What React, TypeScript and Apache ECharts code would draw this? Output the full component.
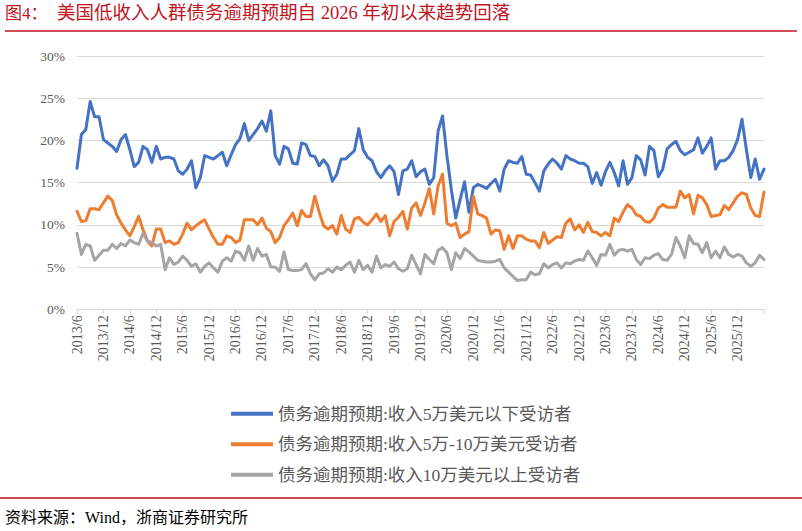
import React, { useEffect, useRef } from "react";
import * as echarts from "echarts";

const START_YEAR = 2013;
const START_MONTH = 6;
const POINT_COUNT = 157;
const categories: string[] = [];
for (let k = 0; k < POINT_COUNT; k++) {
  const m = START_MONTH - 1 + k;
  categories.push(`${START_YEAR + Math.floor(m / 12)}/${(m % 12) + 1}`);
}

const seriesNames = [
  "债务逾期预期:收入5万美元以下受访者",
  "债务逾期预期:收入5万-10万美元受访者",
  "债务逾期预期:收入10万美元以上受访者",
];

const lowIncome = [
  16.7, 20.7, 21.3, 24.6, 22.8, 22.8, 20.1, 19.7, 19.3, 18.7,
  20.1, 20.7, 18.9, 16.9, 17.4, 19.3, 18.9, 17.4, 19.3, 17.8,
  18.0, 18.0, 17.8, 16.4, 16.0, 16.6, 17.6, 14.4, 15.6, 18.2,
  18.0, 17.8, 18.2, 18.6, 17.0, 18.3, 19.5, 20.2, 22.0, 20.0,
  20.7, 21.4, 22.3, 21.1, 23.5, 18.2, 17.2, 19.3, 19.0, 17.3,
  17.2, 19.7, 19.5, 18.2, 18.1, 17.0, 17.7, 17.0, 15.2, 16.0,
  17.8, 17.8, 18.3, 18.8, 21.4, 18.9, 18.0, 17.6, 16.3, 15.6,
  16.4, 17.0, 16.3, 13.6, 16.4, 16.6, 17.6, 15.7, 16.3, 16.6,
  14.8, 15.6, 21.1, 22.9, 18.2, 14.2, 10.8, 13.0, 15.1, 11.5,
  14.4, 14.8, 14.6, 14.3, 14.9, 15.4, 14.0, 16.6, 17.6, 17.4,
  17.3, 18.1, 16.0, 15.9, 15.0, 14.0, 16.4, 17.2, 17.8, 17.3,
  16.6, 18.2, 17.8, 17.6, 17.3, 17.3, 16.9, 14.9, 16.2, 14.7,
  16.3, 17.4, 16.2, 14.6, 17.6, 14.8, 15.6, 18.2, 17.7, 15.9,
  19.3, 18.8, 15.7, 16.6, 19.0, 19.5, 19.9, 18.8, 18.3, 18.6,
  18.9, 20.3, 18.5, 19.3, 20.3, 16.6, 17.6, 17.6, 18.0, 18.8,
  20.1, 22.5, 18.9, 15.6, 17.8, 15.4, 16.6,
];

const midIncome = [
  11.6, 10.4, 10.5, 11.9, 11.9, 11.8, 12.6, 13.4, 12.9, 11.2,
  10.2, 9.4, 8.7, 9.8, 11.0, 9.4, 8.1, 7.5, 9.5, 9.5,
  7.9, 8.1, 7.7, 7.9, 8.9, 10.2, 9.4, 9.9, 10.3, 10.6,
  9.5, 8.5, 7.7, 7.7, 8.7, 8.5, 7.9, 8.2, 10.6, 10.6,
  10.6, 10.0, 10.8, 9.6, 9.2, 7.9, 8.5, 9.9, 10.6, 11.4,
  9.9, 11.7, 11.0, 11.0, 13.4, 11.5, 9.9, 9.5, 9.9, 8.9,
  11.1, 9.5, 9.1, 10.7, 10.9, 10.3, 10.0, 10.6, 11.3, 10.4,
  11.1, 8.7, 10.4, 10.9, 11.6, 9.5, 12.0, 12.6, 11.1, 12.6,
  14.3, 11.3, 14.6, 16.0, 10.2, 9.9, 10.2, 8.5, 8.9, 9.2,
  13.4, 11.3, 11.1, 10.8, 8.9, 9.4, 9.3, 7.1, 8.7, 7.2,
  8.7, 8.7, 8.3, 8.1, 8.1, 7.3, 9.1, 7.8, 8.2, 8.6,
  8.5, 10.2, 10.7, 9.4, 10.0, 9.1, 10.3, 9.2, 9.1, 8.7,
  9.1, 8.7, 10.8, 10.4, 11.5, 12.4, 12.0, 11.2, 11.0, 10.4,
  10.3, 10.8, 12.0, 12.4, 12.1, 12.1, 12.1, 14.0, 13.2, 13.6,
  11.3, 13.5, 13.2, 12.4, 11.0, 11.1, 11.2, 12.3, 11.8, 12.6,
  13.4, 13.8, 13.6, 12.0, 11.1, 11.0, 13.9,
];

const highIncome = [
  9.0, 6.5, 7.7, 7.5, 5.8, 6.4, 7.0, 7.0, 7.7, 7.2,
  7.8, 7.5, 8.2, 7.9, 7.7, 9.0, 8.1, 7.9, 7.5, 7.7,
  4.7, 6.1, 5.3, 5.6, 6.3, 5.8, 5.1, 5.4, 4.4, 5.1,
  5.5, 4.9, 4.4, 5.7, 6.1, 5.7, 6.9, 6.7, 5.8, 7.5,
  5.8, 7.2, 6.3, 6.5, 5.0, 5.0, 4.5, 6.8, 4.7, 4.6,
  4.6, 4.7, 5.4, 4.2, 3.5, 4.2, 4.3, 4.8, 4.4, 5.0,
  4.7, 5.2, 5.6, 4.4, 5.8, 4.7, 5.2, 4.4, 6.3, 4.9,
  5.3, 5.1, 5.6, 4.8, 4.5, 4.8, 6.4, 5.3, 4.2, 6.5,
  5.9, 5.4, 7.0, 7.3, 6.7, 4.7, 6.7, 6.0, 7.2, 6.8,
  6.3, 5.8, 5.7, 5.6, 5.6, 5.7, 5.9, 4.9, 4.4, 3.9,
  3.4, 3.5, 3.5, 4.4, 4.1, 4.2, 5.4, 4.9, 5.3, 5.5,
  4.9, 5.5, 5.4, 5.7, 5.9, 5.8, 6.9, 6.1, 5.2, 6.5,
  6.4, 7.7, 6.4, 7.0, 7.1, 6.9, 7.1, 5.9, 5.3, 6.1,
  6.0, 6.4, 6.6, 5.9, 5.8, 6.5, 8.5, 7.5, 6.1, 8.7,
  7.8, 7.7, 6.7, 7.9, 6.1, 6.9, 6.1, 7.4, 6.5, 6.2,
  6.5, 6.3, 5.5, 5.1, 5.5, 6.4, 5.9,
];

const seriesColors = ["#4472C4", "#ED7D31", "#A5A5A5"];
const titleLabel = "图4：";
const titleText = "美国低收入人群债务逾期预期自 2026 年初以来趋势回落";
const sourceText = "资料来源：Wind，浙商证券研究所";

const SERIF = "'Liberation Serif', 'Times New Roman', 'Noto Sans CJK SC', serif";

export default function App() {
  const ref = useRef<HTMLDivElement>(null);
  useEffect(() => {
    if (!ref.current) return;
    const chart = echarts.init(ref.current, undefined, { renderer: "svg" });
    const data = [lowIncome, midIncome, highIncome];
    chart.setOption({
      animation: false,
      backgroundColor: "#ffffff",
      grid: { left: 77, right: 38, top: 56, height: 253.3 },
      legend: {
        orient: "vertical",
        left: 226,
        top: 400,
        itemWidth: 42,
        itemHeight: 4,
        itemGap: 13,
        icon: "rect",
        textStyle: { fontFamily: SERIF, fontSize: 17.5, color: "#595959" },
        data: seriesNames,
      },
      xAxis: {
        type: "category",
        data: categories,
        boundaryGap: false,
        axisLine: { lineStyle: { color: "#D9D9D9", width: 1 } },
        axisTick: {
          show: true,
          length: 5,
          interval: (idx: number) => idx % 6 === 0,
          lineStyle: { color: "#D9D9D9" },
        },
        axisLabel: {
          interval: (idx: number) => idx % 6 === 0 && idx < POINT_COUNT - 1,
          rotate: 90,
          margin: 6,
          fontFamily: SERIF,
          fontSize: 14,
          color: "#595959",
        },
        splitLine: { show: false },
      },
      yAxis: {
        type: "value",
        min: 0,
        max: 30,
        interval: 5,
        axisLine: { show: false },
        axisTick: { show: false },
        axisLabel: {
          formatter: "{value}%",
          margin: 12,
          fontFamily: SERIF,
          fontSize: 13.5,
          color: "#595959",
        },
        splitLine: { lineStyle: { color: "#D9D9D9", width: 1 } },
      },
      series: seriesNames.map((name, k) => ({
        name,
        type: "line",
        data: data[k],
        symbol: "none",
        color: seriesColors[k],
        lineStyle: { width: 3, color: seriesColors[k], join: "round", cap: "round" },
      })),
      graphic: [
        {
          type: "text",
          left: 5,
          top: 5,
          style: { text: titleLabel, fill: "#C0141E", fontSize: 17, fontFamily: SERIF },
        },
        {
          type: "text",
          left: 57,
          top: 4,
          style: { text: titleText, fill: "#C0141E", fontSize: 18.5, fontFamily: SERIF },
        },
        {
          type: "line",
          shape: { x1: 5, y1: 31, x2: 797, y2: 31 },
          style: { stroke: "#C0141E", lineWidth: 1.5 },
        },
        {
          type: "line",
          shape: { x1: 0, y1: 498, x2: 802, y2: 498 },
          style: { stroke: "#C0141E", lineWidth: 1.5 },
        },
        {
          type: "text",
          left: 5,
          top: 509,
          style: { text: sourceText, fill: "#000000", fontSize: 16, fontFamily: SERIF },
        },
      ],
    });
    return () => chart.dispose();
  }, []);
  return (
    <div
      ref={ref}
      style={{ position: "fixed", left: 0, top: 0, width: 802, height: 531, background: "#fff" }}
    />
  );
}
